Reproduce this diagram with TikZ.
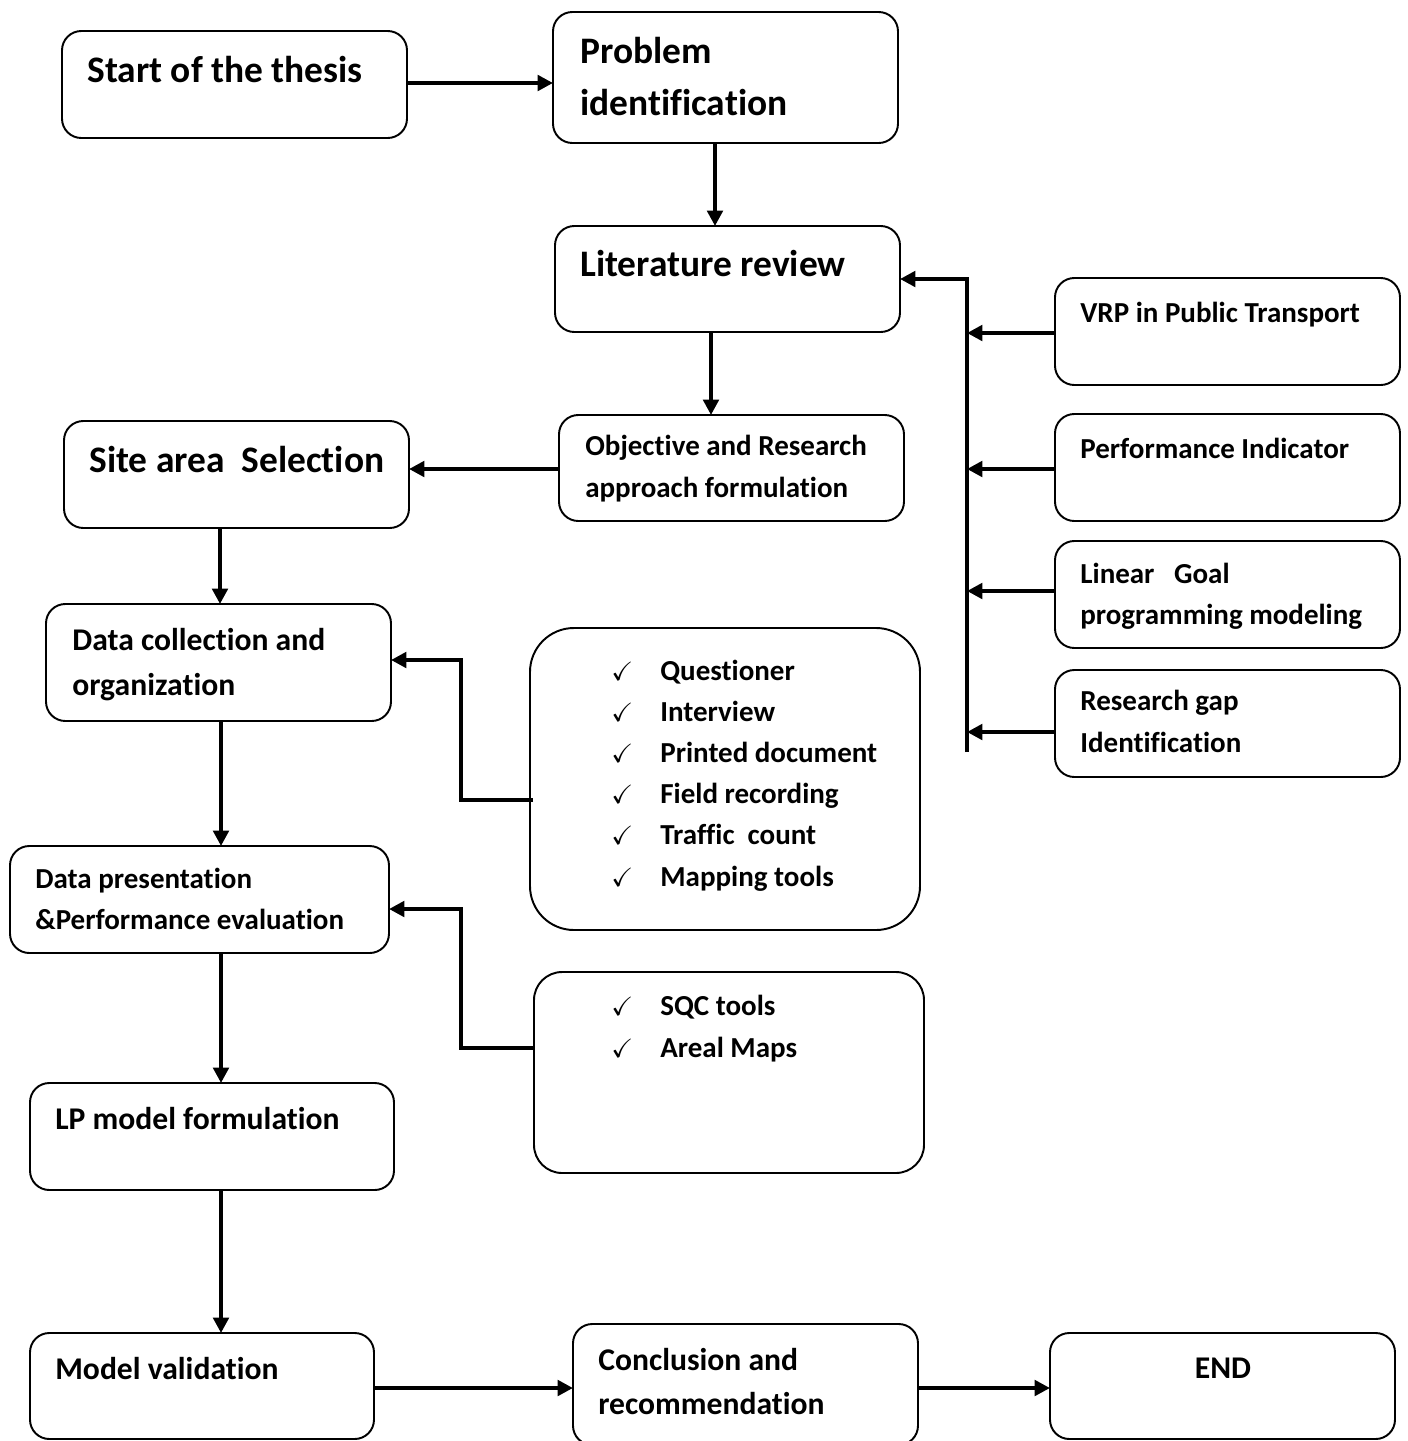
\documentclass[tikz,border=0pt]{standalone}
\usepackage{amssymb}
\usepackage{fontspec}
\setmainfont{Carlito}[Ligatures=NoCommon]
\usetikzlibrary{arrows.meta}
\newcommand\mkbox[6][]{\node[box,#1,minimum width={(#5-#3)*0.02cm},minimum height={(#6-#4)*0.02cm}] (#2) at ({(#3+#5)/2},{(#4+#6)/2}) {};}
\tikzset{
  box/.style={draw, line width=1.1pt, rounded corners=11pt, inner sep=0pt, outer sep=0pt},
  arr/.style={line width=2.4pt, -{Triangle[length=8.8pt,width=8.8pt]}},
  big/.style={font=\fontsize{21.3}{26}\selectfont\bfseries, inner sep=0pt, anchor=base west},
  mid/.style={font=\fontsize{18}{22}\selectfont\bfseries, inner sep=0pt, anchor=base west},
  sml/.style={font=\fontsize{16.5}{20}\selectfont\bfseries, inner sep=0pt, anchor=base west},
  chk/.style={font=\fontsize{15}{18}\selectfont\boldmath, inner sep=0pt, anchor=base west},
}
\begin{document}
\begin{tikzpicture}[x=0.02cm,y=-0.02cm]
\useasboundingbox (0,0) rectangle (1408,1441);
% boxes
\mkbox{start}{62}{31}{407}{138}
\mkbox{prob}{553}{12}{898}{143}
\mkbox{lit}{555}{226}{900}{332}
\mkbox{obj}{559}{415}{904}{521}
\mkbox{site}{64}{421}{409}{528}
\mkbox{vrp}{1055}{278}{1400}{385}
\mkbox{perf}{1055}{414}{1400}{521}
\mkbox{lin}{1055}{541}{1400}{648}
\mkbox{gap}{1055}{670}{1400}{777}
\mkbox{dc}{46}{604}{391}{721}
\mkbox[rounded corners=25pt]{tools}{530}{628}{920}{930}
\mkbox{dp}{10}{846}{389}{953}
\mkbox[rounded corners=16pt]{sqc}{534}{972}{924}{1173}
\mkbox{lp}{30}{1083}{394}{1190}
\mkbox{mv}{30}{1333}{374}{1439}
\mkbox{conc}{573}{1324}{918}{1445}
\mkbox{endb}{1050}{1333}{1395}{1439}
% texts
\node[big] (tstart) at (87,82) {Start of the thesis};
\node[big] (tproba) at (580,63) {Problem};
\node[big] (tprobb) at (580,115) {identification};
\node[big] (tlit) at (580,276) {Literature review};
\node[sml] (tobja) at (585,455) {Objective and Research};
\node[sml] (tobjb) at (585,497) {approach formulation};
\node[big] (tsite) at (89,472) {Site area\ \ Selection};
\node[sml] (tvrp) at (1080,322) {VRP in Public Transport};
\node[sml] (tperf) at (1080,458) {Performance Indicator};
\node[sml] (tlina) at (1080,583) {Linear\ \ \ Goal};
\node[sml] (tlinb) at (1080,624) {programming modeling};
\node[sml] (tgapa) at (1080,710) {Research gap};
\node[sml] (tgapb) at (1080,752) {Identification};
\node[mid] (tdca) at (72,650) {Data collection and};
\node[mid] (tdcb) at (72,695) {organization};
\foreach \yy/\tt [count=\i] in {680/Questioner,721/Interview,762/Printed document,803/Field recording,844/Traffic\ \ count,886/Mapping tools}{
  \node[chk] (ck\i) at (611,\yy) {$\checkmark$};
  \node[sml] (it\i) at (660,\yy) {\tt};
}
\node[sml] (tdpa) at (35,888) {Data presentation};
\node[sml] (tdpb) at (35,929) {\&Performance evaluation};
\node[chk] (cks1) at (611,1015) {$\checkmark$};
\node[sml] (sq1) at (660,1015) {SQC tools};
\node[chk] (cks2) at (611,1057) {$\checkmark$};
\node[sml] (sq2) at (660,1057) {Areal Maps};
\node[mid] (tlp) at (55,1129) {LP model formulation};
\node[mid] (tmv) at (55,1379) {Model validation};
\node[mid] (tconca) at (598,1370) {Conclusion and};
\node[mid] (tconcb) at (598,1414) {recommendation};
\node[mid, anchor=base] (tend) at (1223,1378) {END};
% connectors
\draw[arr] (start.east |- 0,83) -- (prob.west |- 0,83);
\draw[arr] (715,0 |- prob.south) -- (715,0 |- lit.north);
\draw[arr] (711,0 |- lit.south) -- (711,0 |- obj.north);
\draw[arr] (obj.west |- 0,469) -- (site.east |- 0,469);
\draw[arr] (220,0 |- site.south) -- (220,0 |- dc.north);
\draw[arr] (221,0 |- dc.south) -- (221,0 |- dp.north);
\draw[arr] (221,0 |- dp.south) -- (221,0 |- lp.north);
\draw[arr] (221,0 |- lp.south) -- (221,0 |- mv.north);
\draw[arr] (mv.east |- 0,1388) -- (conc.west |- 0,1388);
\draw[arr] (conc.east |- 0,1388) -- (endb.west |- 0,1388);
\coordinate (bt) at (967,279);
\coordinate (bb) at (967,752);
\draw[arr] (bb) -- (bt) -- (lit.east |- bt);
\draw[arr] (vrp.west |- 0,333) -- (bt |- 0,333);
\draw[arr] (perf.west |- 0,469) -- (bt |- 0,469);
\draw[arr] (lin.west |- 0,591) -- (bt |- 0,591);
\draw[arr] (gap.west |- 0,732) -- (bt |- 0,732);
\draw[arr] ([xshift=0.06cm]tools.west |- 0,800) -- (461,800) -- (461,660) -- (dc.east |- 0,660);
\draw[arr] (sqc.west |- 0,1048) -- (461,1048) -- (461,909) -- (dp.east |- 0,909);
\end{tikzpicture}
\end{document}
